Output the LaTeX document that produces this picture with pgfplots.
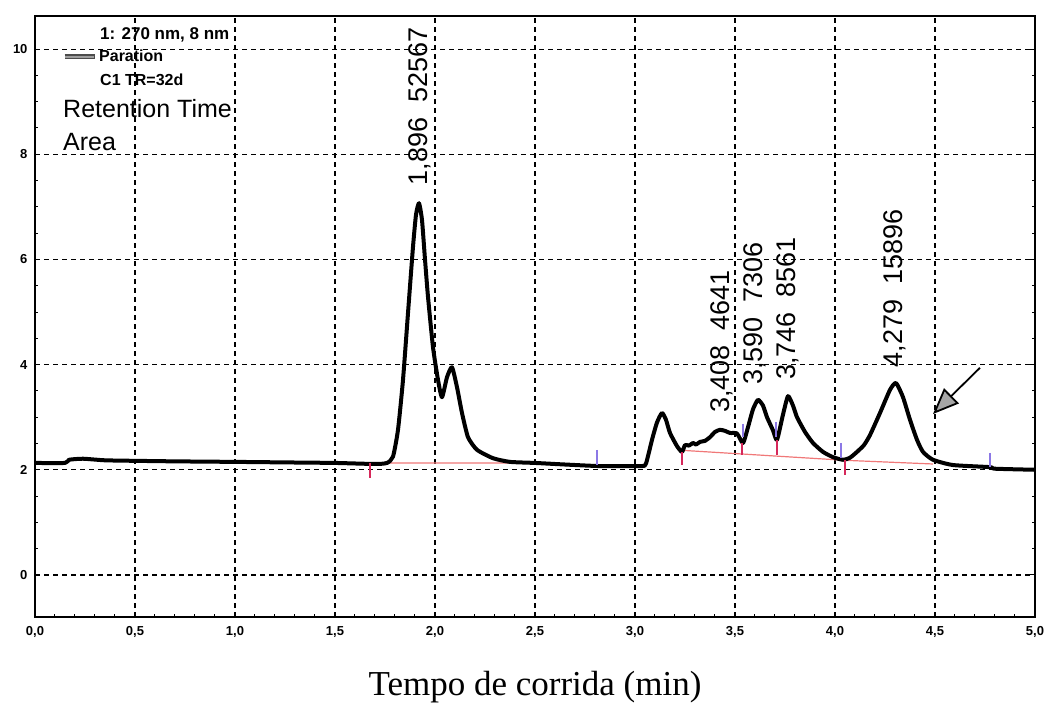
\documentclass[border=0pt]{standalone}
\usepackage{pgfplots}
\pgfplotsset{compat=1.18}
\usepackage{fontspec}
\setmainfont{Liberation Sans}
\newfontfamily\seriffont{Liberation Serif}
\usetikzlibrary{arrows.meta}
\definecolor{redtick}{RGB}{214,40,90}
\definecolor{redbase}{RGB}{240,120,120}
\definecolor{purptick}{RGB}{140,120,230}
\begin{document}
\begin{tikzpicture}
\path[use as bounding box] (-35pt,-100pt) rectangle (1011pt,617pt);
\begin{axis}[
  scale only axis, width=1000pt, height=601pt,
  xmin=0, xmax=5, ymin=-0.8, ymax=10.63,
  xtick={0,0.5,...,5}, ytick={0,2,...,10},
  minor x tick num=4, minor y tick num=3,
  xtick pos=bottom, ytick pos=both, yticklabel pos=left,
  tick align=inside,
  major tick length=5pt, minor tick length=3pt,
  tick style={black, line width=1pt},
  axis line style={black, line width=1.5pt},
  grid=major,
  major grid style={black, line width=1.2pt, dash pattern=on 5pt off 4pt},
  /pgf/number format/assume math mode=true,
  xticklabel style={/pgf/number format/.cd, fixed, fixed zerofill, precision=1, use comma, /tikz/.cd, font=\bfseries\fontsize{13}{13}\selectfont, yshift=-6pt},
  yticklabel style={font=\bfseries\fontsize{13}{13}\selectfont, xshift=-4pt},
  xlabel={Tempo de corrida (min)},
  xlabel style={font=\seriffont\fontsize{35}{35}\selectfont, at={(axis description cs:0.5,0)}, anchor=center, yshift=-70pt},
  clip=false,
  unbounded coords=jump,
  legend style={at={(rel axis cs:0.027,0.932)}, anchor=west, draw=none, fill=none, inner sep=0pt, font=\bfseries\fontsize{16}{16}\selectfont},
  legend image code/.code={\draw[line width=5pt, black!70] (0pt,0pt) -- (30pt,0pt); \draw[line width=2.5pt, gray!75] (0.5pt,0pt) -- (29.5pt,0pt);},
]
% baseline segments (red)
\addplot[redbase, line width=1.2pt, forget plot] coordinates {
 (1.675,2.13) (2.40,2.13) (2.40,nan)
 (3.235,2.37) (4.05,2.18) (4.49,2.11)
};
% main chromatogram trace
\addplot[black, line width=4pt, line join=round, smooth, tension=0.35] coordinates {
 (0.0,2.13) (0.15,2.13) (0.17,2.19) (0.24,2.21) (0.35,2.18) (0.5,2.17) (0.7,2.16)
 (1.0,2.15) (1.25,2.14) (1.5,2.13) (1.7,2.11) (1.76,2.13) (1.79,2.25) (1.815,2.76)
 (1.84,3.71) (1.865,4.98) (1.89,6.24) (1.905,6.85) (1.92,7.07) (1.935,6.75) (1.95,6.0)
 (1.965,5.29) (1.99,4.33) (2.015,3.71) (2.035,3.38) (2.06,3.76) (2.085,3.95) (2.11,3.57)
 (2.135,3.08) (2.165,2.62) (2.21,2.38) (2.29,2.22) (2.375,2.15) (2.5,2.13) (2.65,2.10)
 (2.825,2.07) (3.03,2.07) (3.055,2.12) (3.085,2.57) (3.11,2.90) (3.135,3.08) (3.155,2.95)
 (3.175,2.70) (3.21,2.45) (3.235,2.34) (3.25,2.47) (3.27,2.46) (3.29,2.51) (3.305,2.48)
 (3.325,2.53) (3.35,2.55) (3.375,2.62) (3.40,2.72) (3.425,2.76) (3.45,2.74) (3.475,2.70)
 (3.51,2.69) (3.54,2.51) (3.565,2.81) (3.59,3.15) (3.615,3.33) (3.64,3.22) (3.66,3.00)
 (3.69,2.75) (3.71,2.57) (3.74,3.05) (3.765,3.40) (3.79,3.22) (3.81,3.00) (3.85,2.72)
 (3.89,2.51) (3.94,2.34) (3.99,2.24) (4.04,2.19) (4.075,2.23) (4.11,2.34) (4.145,2.47)
 (4.175,2.66) (4.225,3.08) (4.275,3.52) (4.305,3.65) (4.34,3.38) (4.375,2.95) (4.41,2.57)
 (4.44,2.34) (4.49,2.19) (4.59,2.09) (4.775,2.05) (4.8,2.02) (5.0,2.00)
};
\addlegendentry{Paration}
% integration markers (red)
\addplot[redtick, line width=1.3pt, forget plot] coordinates {
 (1.675,2.13) (1.675,1.84) (1.675,nan)
 (3.235,2.34) (3.235,2.09) (3.235,nan)
 (3.535,2.51) (3.535,2.28) (3.535,nan)
 (3.71,2.57) (3.71,2.28) (3.71,nan)
 (4.05,2.19) (4.05,1.90)
};
% integration markers (purple)
\addplot[purptick, line width=1.3pt, forget plot] coordinates {
 (2.81,2.38) (2.81,2.09) (2.81,nan)
 (3.54,2.88) (3.54,2.62) (3.54,nan)
 (3.705,2.91) (3.705,2.62) (3.705,nan)
 (4.03,2.51) (4.03,2.22) (4.03,nan)
 (4.775,2.32) (4.775,2.05)
};
% header texts
\node[anchor=west, inner sep=0pt, font=\bfseries\fontsize{17}{17}\selectfont] at (axis cs:0.325,10.27) {1: 270 nm, 8 nm};
\node[anchor=west, inner sep=0pt, font=\bfseries\fontsize{16}{16}\selectfont] at (axis cs:0.325,9.41) {C1 TR=32d};
\node[anchor=west, inner sep=0pt, font=\fontsize{25}{25}\selectfont] at (axis cs:0.14,8.86) {Retention Time};
\node[anchor=west, inner sep=0pt, font=\fontsize{25}{25}\selectfont] at (axis cs:0.14,8.23) {Area};
% peak annotations
\node[rotate=90, anchor=west, inner sep=0pt, font=\fontsize{27}{27}\selectfont] at (axis cs:1.925,7.41) {1,896~~52567};
\node[rotate=90, anchor=west, inner sep=0pt, font=\fontsize{27}{27}\selectfont] at (axis cs:3.435,3.08) {3,408~~4641};
\node[rotate=90, anchor=west, inner sep=0pt, font=\fontsize{27}{27}\selectfont] at (axis cs:3.60,3.61) {3,590~~7306};
\node[rotate=90, anchor=west, inner sep=0pt, font=\fontsize{27}{27}\selectfont] at (axis cs:3.765,3.71) {3,746~~8561};
\node[rotate=90, anchor=west, inner sep=0pt, font=\fontsize{27}{27}\selectfont] at (axis cs:4.30,3.95) {4,279~~15896};
% arrow
\draw[line width=1.8pt, -{Triangle[length=26pt, width=21pt, fill=gray!70]}] (axis cs:4.725,3.94) -- (axis cs:4.49,3.06);
\end{axis}
\end{tikzpicture}
\end{document}
